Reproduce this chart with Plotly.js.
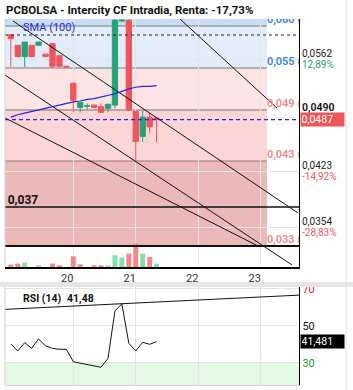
<!DOCTYPE html>
<html><head><meta charset="utf-8">
<script src="https://cdn.plot.ly/plotly-3.0.1.min.js"></script>
<style>html,body{margin:0;padding:0;background:#fff}#chart{width:353px;height:390px}</style>
</head><body><div id="chart"></div>
<script>
// ---- data ----
const times = [19.000,19.111,19.222,19.333,19.444,19.556,19.667,19.778,19.889,20.000,20.111,20.222,20.333,20.444,20.556,20.667,20.778,20.889,21.000,21.111,21.222,21.333];
const openP  = [0.0592,0.0579,0.0565,0.0579,0.0579,0.0568,0.0581,0.0566,0.0553,0.0532,0.0502,0.05035,0.0505,0.0503,0.0501,0.0505,0.0609,0.0610,0.0497,0.0466,0.0490,0.0489];
const highP  = [0.0592,0.0579,0.0583,0.0579,0.0583,0.0568,0.0581,0.0566,0.0553,0.0533,0.0508,0.0507,0.0505,0.0507,0.0506,0.0612,0.0611,0.0612,0.0497,0.0498,0.0496,0.0489];
const lowP   = [0.0552,0.0564,0.0552,0.0565,0.0579,0.0564,0.0550,0.0552,0.0551,0.0496,0.0496,0.0499,0.0502,0.0496,0.0496,0.0501,0.0608,0.0499,0.0435,0.0459,0.0471,0.0459];
const closeP = [0.0587,0.0565,0.0583,0.0565,0.0583,0.0565,0.0553,0.0553,0.0552,0.0511,0.0508,0.0504,0.0502,0.0496,0.0506,0.0610,0.0610,0.0499,0.0460,0.0490,0.0478,0.0487];
const volume = [24,34,44,0,17,0,34,17,0,107,27,0,17,17,17,117,94,134,234,134,100,34];
const volUp  = [false,false,true,true,true,true,false,false,false,false,false,true,false,false,true,true,true,false,false,true,false,true];
const sma100 = [0.0490,0.0493,0.0495,0.0497,0.0499,0.0501,0.0503,0.0505,0.0507,0.0509,0.0510,0.0512,0.0513,0.0515,0.0517,0.0519,0.0522,0.0525,0.0527,0.0528,0.0528,0.0529];
const rsi14  = [40.2,36.4,40.9,37.8,42.9,39.2,37.8,37.3,37.3,30.6,29.8,29.1,28.3,27.6,32.4,58.2,61.8,40.5,36.4,41.1,40.0,41.48];

const dayTicks = [20,21,22,23];
const dayLabels = ['20','21','22','23'];

// trend lines [t0,t1], [p0,p1]
const trendA_t = [19.035, 23.597], trendA_p = [0.06090, 0.03714];
const trendB_t = [18.907, 23.501], trendB_p = [0.05422, 0.03070];
const trendC_t = [18.907, 22.957], trendC_p = [0.04890, 0.03305];
const trendD_t = [21.708, 23.261], trendD_p = [0.06115, 0.05013];
const rsiTrend_t = [18.907, 23.613], rsiTrend_v = [58.9, 66.6];

// fibonacci levels
const fibLevels = [0.060286, 0.055086, 0.049886, 0.043571, 0.037876, 0.033048];
const fibLabels = ['0,060 (', '0,055 (', '0,049 (', '0,043 (', '0,037', '0,033 ('];
const fibEnd = 23.10;
const dottedLevel = 0.059171;
const lastPrice = 0.0487, lastPriceLabel = '0,0487';
const refHigh = 0.0490, refHighLabel = '0,0490';
const priceTicks = [0.0562, 0.0423, 0.0354];
const priceTickText = ['0,0562', '0,0423', '0,0354'];
const priceTickPct = ['12,89%', '-14,92%', '-28,83%'];
const rsiLast = 41.481;

// ---- layout helpers ----
const W = 353, H = 390;
const px = x => x / W;
const py = y => 1 - y / H;
const xr = [18.9067, 23.613];
const yr = [0.030448, 0.061152];
const FONT = 'Roboto, Arial, sans-serif';

const traces = [];
traces.push({type:'bar', x:times, y:volume, xaxis:'x', yaxis:'y2',
  marker:{color: volUp.map(u => u ? '#86dfb0' : '#f88888')}, hoverinfo:'skip', showlegend:false});
// trend lines
[[trendA_t,trendA_p],[trendB_t,trendB_p],[trendC_t,trendC_p],[trendD_t,trendD_p]].forEach(([t,p]) => {
  traces.push({type:'scatter', mode:'lines', x:t, y:p, xaxis:'x', yaxis:'y',
    line:{color:'#111', width:1}, hoverinfo:'skip', showlegend:false});
});
traces.push({type:'scatter', mode:'lines', x:times, y:sma100, xaxis:'x', yaxis:'y',
  line:{color:'#2424e0', width:1.2}, hoverinfo:'skip', showlegend:false});
traces.push({type:'candlestick', x:times, open:openP, high:highP, low:lowP, close:closeP,
  xaxis:'x', yaxis:'y', whiskerwidth:0,
  increasing:{line:{color:'#26a17a', width:1}, fillcolor:'#26a17a'},
  decreasing:{line:{color:'#f0545c', width:1}, fillcolor:'#f0545c'},
  hoverinfo:'skip', showlegend:false});
// fib labels (clipped to plot)
const fibIdxRight = [0,1,2,3,5];
traces.push({type:'scatter', mode:'text', xaxis:'x', yaxis:'y', cliponaxis:true,
  x: fibIdxRight.map(() => fibEnd), y: fibIdxRight.map(i => fibLevels[i]),
  text: fibIdxRight.map(i => fibLabels[i]), textposition:'top right',
  textfont:{family:FONT, size:11, weight:600, color: fibIdxRight.map(i => i < 2 ? '#3c82dc' : '#f28a8a')},
  hoverinfo:'skip', showlegend:false});
traces.push({type:'scatter', mode:'text', xaxis:'x', yaxis:'y', cliponaxis:true,
  x:[18.95], y:[fibLevels[4]], text:[fibLabels[4]], textposition:'top right',
  textfont:{family:FONT, size:12, weight:700, color:'#111'}, hoverinfo:'skip', showlegend:false});
// RSI
traces.push({type:'scatter', mode:'lines', x:rsiTrend_t, y:rsiTrend_v, xaxis:'x2', yaxis:'y3',
  line:{color:'#111', width:1}, hoverinfo:'skip', showlegend:false});
traces.push({type:'scatter', mode:'lines', x:times, y:rsi14, xaxis:'x2', yaxis:'y3',
  line:{color:'#111', width:1}, hoverinfo:'skip', showlegend:false});

// shapes
const shapes = [];
const band = (p0, p1, c) => shapes.push({type:'rect', xref:'x', yref:'y', x0:xr[0], x1:fibEnd, y0:p0, y1:p1,
  fillcolor:c, line:{width:0}, layer:'below'});
band(fibLevels[0], yr[1], '#c9dcf5');
band(fibLevels[1], fibLevels[0], '#e3edf9');
band(fibLevels[2], fibLevels[1], '#fde4e4');
band(fibLevels[3], fibLevels[2], '#fcd6d6');
band(fibLevels[5], fibLevels[3], '#ecb9b9');
[[0,'#777'],[1,'#777'],[2,'#806a6a'],[3,'#9a7676'],[5,'#888']].forEach(([i,c]) => {
  shapes.push({type:'line', xref:'x', yref:'y', x0:xr[0], x1:fibEnd, y0:fibLevels[i], y1:fibLevels[i],
    line:{color:c, width:1}, layer:'below'});
});
shapes.push({type:'line', xref:'x', yref:'y', x0:xr[0], x1:xr[1], y0:dottedLevel, y1:dottedLevel,
  line:{color:'#222', width:1, dash:'dot'}});
shapes.push({type:'line', xref:'x', yref:'y', x0:xr[0], x1:xr[1], y0:fibLevels[4], y1:fibLevels[4],
  line:{color:'#111', width:1.5}});
shapes.push({type:'line', xref:'x', yref:'y', x0:xr[0], x1:xr[1], y0:fibLevels[5], y1:fibLevels[5],
  line:{color:'#111', width:2}});
shapes.push({type:'line', xref:'x', yref:'y', x0:xr[0], x1:xr[1], y0:lastPrice, y1:lastPrice,
  line:{color:'#2222ee', width:1.3, dash:'4px,3px'}});
// RSI oversold zone
shapes.push({type:'rect', xref:'x2', yref:'y3', x0:xr[0], x1:xr[1], y0:18, y1:30,
  fillcolor:'#e3f8e3', line:{width:0}, layer:'below'});
// borders / separators
shapes.push({type:'line', xref:'paper', yref:'paper', x0:px(5), x1:px(5), y0:py(267), y1:py(19), line:{color:'#d0d0d0', width:1}});
shapes.push({type:'line', xref:'paper', yref:'paper', x0:px(5), x1:px(5), y0:py(385), y1:py(287), line:{color:'#d0d0d0', width:1}});
shapes.push({type:'rect', xref:'paper', yref:'paper', x0:0, x1:1, y0:py(287), y1:py(282), fillcolor:'#e6e6e6', line:{width:0}, layer:'above'});
shapes.push({type:'line', xref:'paper', yref:'paper', x0:px(346), x1:px(346), y0:0, y1:1, line:{color:'#e2e2e2', width:1}});

// annotations
const ann = [];
ann.push({xref:'paper', yref:'paper', x:px(4), y:py(10), xanchor:'left', yanchor:'middle', showarrow:false,
  text:'<b>PCBOLSA - Intercity CF Intradia, Renta: -17,73%</b>', font:{family:FONT, size:11.5, color:'#111'}});
ann.push({xref:'paper', yref:'paper', x:px(21), y:py(28), xanchor:'left', yanchor:'middle', showarrow:false,
  text:'SMA (100)', font:{family:FONT, size:11, color:'#2a2ae0'}});
const pctColors = ['#2e9e6e', '#f05a5a', '#f05a5a'];
priceTicks.forEach((v, i) => {
  ann.push({xref:'paper', yref:'y', x:px(300), y:v, yshift:5.5, xanchor:'left', yanchor:'middle', showarrow:false,
    text:priceTickText[i], font:{family:FONT, size:10, color:'#222'}});
  ann.push({xref:'paper', yref:'y', x:px(300), y:v, yshift:-5.5, xanchor:'left', yanchor:'middle', showarrow:false,
    text:priceTickPct[i], font:{family:FONT, size:10, color:pctColors[i]}});
});
ann.push({xref:'paper', yref:'y', x:px(300), y:refHigh, yshift:10, xanchor:'left', yanchor:'middle', showarrow:false,
  text:refHighLabel, font:{family:FONT, size:10.5, color:'#111', weight:600}});
ann.push({xref:'paper', yref:'y', x:px(299.5), y:lastPrice, xanchor:'left', yanchor:'middle', showarrow:false,
  text:lastPriceLabel, bgcolor:'#f25555', width:42, height:12, align:'left', borderpad:0.5,
  font:{family:FONT, size:10.5, color:'#fff'}});
ann.push({xref:'paper', yref:'paper', x:px(21), y:py(298), xanchor:'left', yanchor:'middle', showarrow:false,
  text:'<b>RSI (14)</b>', font:{family:FONT, size:10.5, color:'#111'}});
ann.push({xref:'paper', yref:'paper', x:px(65), y:py(298), xanchor:'left', yanchor:'middle', showarrow:false,
  text:'<b>41,48</b>', font:{family:FONT, size:10.5, color:'#111'}});
ann.push({xref:'paper', yref:'y3', x:px(299.5), y:rsiLast, xanchor:'left', yanchor:'middle', showarrow:false,
  text:'41,481', bgcolor:'#000', width:42, height:12, align:'left', borderpad:0.5,
  font:{family:FONT, size:10.5, color:'#fff'}});

const layout = {
  width:W, height:H, margin:{l:0, r:0, t:0, b:0, pad:0},
  paper_bgcolor:'#fff', plot_bgcolor:'#fff', showlegend:false,
  font:{family:FONT, size:11, color:'#333'},
  bargap:0.28, boxgap:0.15, boxgroupgap:0.1,
  xaxis:{domain:[px(5), px(299)], range:xr, anchor:'y', tickvals:dayTicks, ticktext:dayLabels,
    showgrid:true, gridcolor:'#e4e4e4', showline:true, linecolor:'#000', linewidth:1.5,
    ticks:'', ticklabelshift:-6, tickfont:{family:FONT, size:11, color:'#333'},
    zeroline:false, rangeslider:{visible:false}, fixedrange:true},
  yaxis:{domain:[py(267), py(19)], range:yr, side:'right', anchor:'x', tickvals:priceTicks,
    showticklabels:false, showgrid:true, gridcolor:'#e4e4e4', showline:true, linecolor:'#000', linewidth:1.2,
    ticks:'', zeroline:false, fixedrange:true},
  yaxis2:{overlaying:'y', range:[0, 2480], visible:false, fixedrange:true},
  xaxis2:{domain:[px(5), px(299)], range:xr, anchor:'y3', tickvals:dayTicks, showticklabels:false,
    showgrid:true, gridcolor:'#e4e4e4', showline:true, linecolor:'#d0d0d0', ticks:'', zeroline:false, fixedrange:true},
  yaxis3:{domain:[py(385), py(287)], range:[18, 71], side:'right', anchor:'x2', tickvals:[30,50,70],
    ticktext:['<span style="color:#1a9a1a">30</span>', '50', '<span style="color:#ee1c1c">70</span>'],
    tickfont:{family:FONT, size:11, color:'#111'}, showgrid:true, gridcolor:'#e4e4e4',
    showline:true, linecolor:'#000', linewidth:1.2, ticks:'', zeroline:false, fixedrange:true},
  shapes:shapes, annotations:ann
};
Plotly.newPlot('chart', traces, layout, {displayModeBar:false, staticPlot:true});
</script></body></html>
